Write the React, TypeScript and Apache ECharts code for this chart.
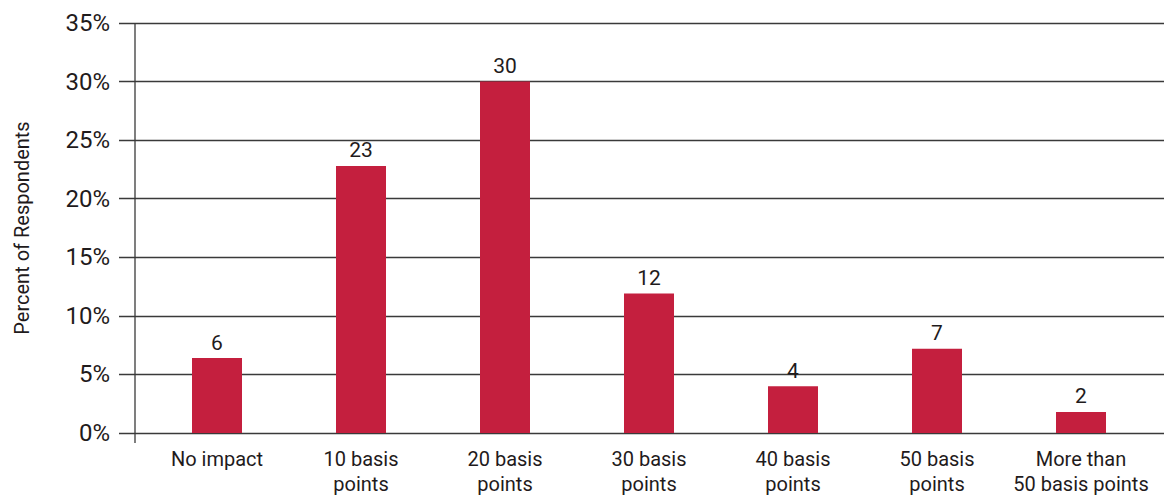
import React, { useEffect, useRef } from "react";
import * as echarts from "echarts";

const categories = [
  "No impact",
  "10 basis\npoints",
  "20 basis\npoints",
  "30 basis\npoints",
  "40 basis\npoints",
  "50 basis\npoints",
  "More than\n50 basis points",
];
const values = [6.4, 22.8, 30, 11.9, 4.0, 7.2, 1.8];
const yTicksMax = 35;
const yTicksStep = 5;
const axisTitle = "Percent of Respondents";

const TEXT = "#1f1b1c";
const LINE = "#3a3a3a";
const BAR = "#c41f3e";
const FONT = "Roboto, 'Noto Sans', sans-serif";

export default function App() {
  const ref = useRef<HTMLDivElement>(null);
  useEffect(() => {
    if (!ref.current) return;
    const chart = echarts.init(ref.current, undefined, { renderer: "svg" });
    chart.setOption({
      animation: false,
      backgroundColor: "#ffffff",
      textStyle: { fontFamily: FONT, color: TEXT },
      grid: [
        { left: 119, right: 0, top: 23, bottom: 64 },
        { left: 145, right: 11, top: 23, bottom: 64 },
      ],
      xAxis: [
        { gridIndex: 0, type: "value", min: 0, max: 1, show: false },
        {
          gridIndex: 1,
          type: "category",
          data: categories,
          axisLine: { show: false },
          axisTick: { show: false },
          axisLabel: {
            interval: 0,
            margin: 13,
            fontSize: 20,
            lineHeight: 25,
            color: TEXT,
            fontFamily: FONT,
          },
        },
      ],
      yAxis: [
        {
          gridIndex: 0,
          type: "value",
          min: 0,
          max: yTicksMax,
          interval: yTicksStep,
          axisLine: { show: false },
          axisTick: { show: false },
          splitLine: { show: true, lineStyle: { color: LINE, width: 1.3 } },
          axisLabel: {
            formatter: "{value}%",
            margin: 9,
            fontSize: 24,
            color: TEXT,
            fontFamily: FONT,
          },
          name: axisTitle,
          nameLocation: "middle",
          nameGap: 87,
          nameTextStyle: { fontSize: 20, color: TEXT, fontFamily: FONT },
        },
        {
          gridIndex: 1,
          type: "value",
          min: 0,
          max: yTicksMax,
          interval: yTicksStep,
          show: false,
          splitLine: { show: false },
        },
      ],
      series: [
        {
          type: "bar",
          xAxisIndex: 1,
          yAxisIndex: 1,
          data: values,
          barWidth: 50,
          itemStyle: { color: BAR },
          label: {
            show: true,
            position: "top",
            distance: 5,
            fontSize: 21,
            color: TEXT,
            fontFamily: FONT,
            formatter: (p: any) => String(Math.round(p.value)),
          },
        },
      ],
      graphic: [
        {
          type: "line",
          shape: { x1: 135, y1: 23, x2: 135, y2: 443 },
          style: { stroke: LINE, lineWidth: 1.3 },
          z: 10,
        },
      ],
    });
    return () => chart.dispose();
  }, []);
  return (
    <div
      ref={ref}
      style={{ position: "absolute", left: 0, top: 0, width: 1164, height: 497 }}
    />
  );
}
